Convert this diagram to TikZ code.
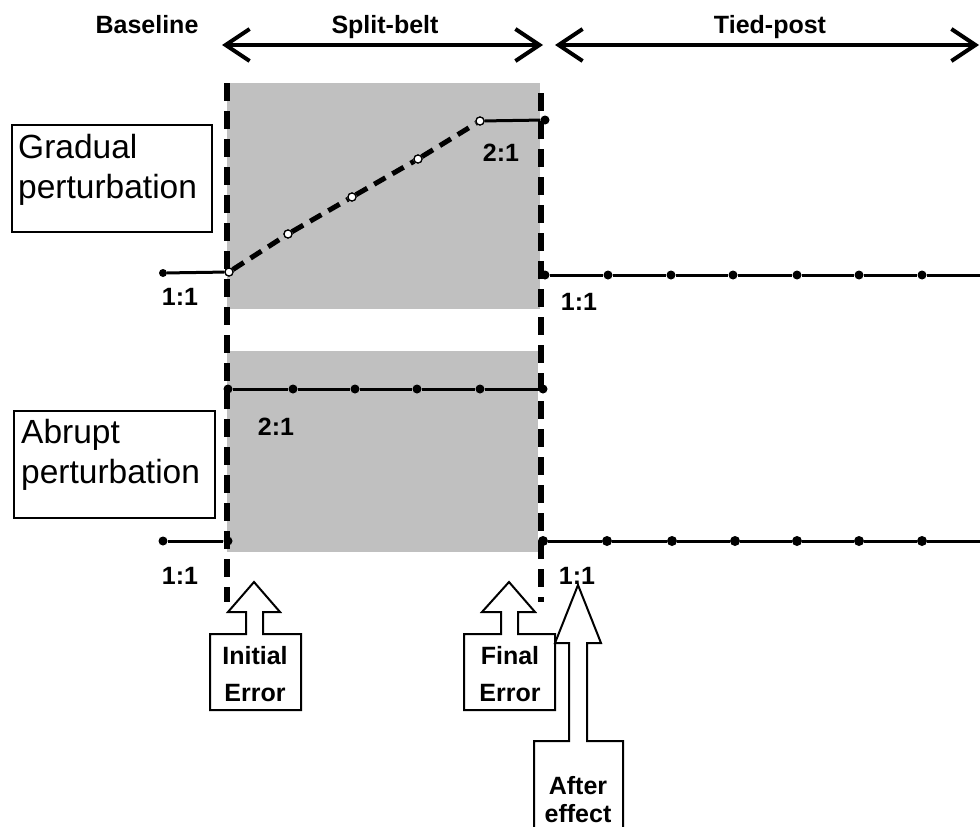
\documentclass[tikz,border=0pt]{standalone}
\usepackage{fontspec}
\setmainfont{Liberation Sans}
\usetikzlibrary{arrows.meta}
\begin{document}
\begin{tikzpicture}[x=1pt,y=-1pt,
  bl/.style={font=\fontsize{25}{30}\selectfont\bfseries, inner sep=0pt},
  rg/.style={font=\fontsize{33.5}{40}\selectfont, inner sep=0pt, anchor=base west},
  phase/.style={line width=4pt, {Straight Barb[length=24pt,width=32pt]}-{Straight Barb[length=24pt,width=32pt]}},
  vdash/.style={line width=6pt, dash pattern=on 18pt off 10pt},
  trace/.style={line width=3pt},
  ramp/.style={line width=5pt, dash pattern=on 13pt off 8pt},
  dot/.style={circle, fill=black, inner sep=0pt, minimum size=9pt},
  odot/.style={circle, fill=white, draw=black, line width=1.2pt, inner sep=0pt, minimum size=8pt},
  lbox/.style={draw, line width=1.5pt, inner sep=0pt},
  blk/.style={draw, line width=2pt, line join=miter},
  blkfill/.style={fill=white}
]
\useasboundingbox (0,0) rectangle (980,827);
\begin{scope}
\clip (0,0) rectangle (980,827);

% phase headers
\node[bl, anchor=base] (hbase) at (147,34) {Baseline};
\node[bl, anchor=base] (hsplit) at (385,34) {Split-belt};
\node[bl, anchor=base] (htied) at (770,34) {Tied-post};
\coordinate (s1) at (222,45);
\coordinate (s2) at (543,45);
\coordinate (p1) at (555,45);
\coordinate (p2) at (979,45);
\draw[phase] (s1) -- (s2);
\draw[phase] (p1) -- (p2);

% gray split-belt areas
\fill[gray!50!white, fill={rgb,255:red,192;green,192;blue,192}] (227,83) rectangle (540,309);
\fill[fill={rgb,255:red,192;green,192;blue,192}] (227,351) rectangle (538,552);

% dashed phase boundaries
\coordinate (vL1) at (227,83);
\coordinate (vL2) at (227,602);
\coordinate (vR1) at (541,93);
\coordinate (vR2) at (541,602);
\draw[vdash] (vL1) -- (vL2);
\draw[vdash] (vR1) -- (vR2);

% labels boxes
\node[lbox, anchor=north west, minimum width=200pt, minimum height=107pt] (gbox) at (11,124) {};
\node[rg] (gt1) at (18,158) {Gradual};
\node[rg] (gt2) at (18,198) {perturbation};
\node[lbox, anchor=north west, minimum width=201pt, minimum height=107pt] (abox) at (13,410) {};
\node[rg] (at1) at (21,443) {Abrupt};
\node[rg] (at2) at (21,483) {perturbation};

% gradual trace
\node[dot, minimum size=8pt] (b1) at (163,273) {};
\node[odot] (g1) at (229,272) {};
\node[odot] (g2) at (288,234) {};
\node[odot] (g3) at (352,197) {};
\node[odot] (g4) at (418,159) {};
\node[odot] (g5) at (480,121) {};
\node[dot] (gE) at (545,120) {};
\draw[trace] (b1) -- (g1);
\draw[ramp] (g1) -- (g2) -- (g3) -- (g4) -- (g5);
\draw[trace] (g5) -- (gE);
\foreach \n in {g1,g2,g3,g4,g5} \node[odot] at (\n) {};

% tied-post top
\foreach \x [count=\i] in {545,608,671,733,797,859,922} \node[dot] (t\i) at (\x,275) {};
\coordinate (tE) at (980,275);
\draw[trace] (t1) -- (t2) -- (t3) -- (t4) -- (t5) -- (t6) -- (t7) -- (tE);

% abrupt trace
\foreach \x [count=\i] in {228,293,355,417,480,543} \node[dot] (a\i) at (\x,389) {};
\draw[trace] (a1) -- (a2) -- (a3) -- (a4) -- (a5) -- (a6);
\node[dot] (c1) at (163,541) {};
\node[dot] (c2) at (228,541) {};
\draw[trace] (c1) -- (c2);
\foreach \x [count=\i] in {543,607,672,735,797,859,922} \node[dot, minimum size=10pt] (u\i) at (\x,541) {};
\coordinate (uE) at (980,541);
\draw[trace] (u1) -- (u2) -- (u3) -- (u4) -- (u5) -- (u6) -- (u7) -- (uE);

% ratio labels
\node[bl] (r1) at (180,297) {1:1};
\node[bl] (r2) at (501,153) {2:1};
\node[bl] (r3) at (579,302) {1:1};
\node[bl] (r4) at (276,427) {2:1};
\node[bl] (r5) at (180,576) {1:1};
\node[bl] (r6) at (577,576) {1:1};

% block arrows
\draw[blk, blkfill] (210,710) -- (301,710) -- (301,634) -- (263,634) -- (263,612) -- (280,612) -- (254,582) -- (228,612) -- (246,612) -- (246,634) -- (210,634) -- cycle;
\node[bl, anchor=base] (ie1) at (255,664) {Initial};
\node[bl, anchor=base] (ie2) at (255,701) {Error};

\draw[blk, blkfill] (464,710) -- (555,710) -- (555,634) -- (518,634) -- (518,612) -- (535,612) -- (509,582) -- (482,612) -- (501,612) -- (501,634) -- (464,634) -- cycle;
\node[bl, anchor=base] (fe1) at (510,664) {Final};
\node[bl, anchor=base] (fe2) at (510,701) {Error};

\fill[white] (534,835) -- (534,741) -- (569,741) -- (569,643) -- (555,643) -- (578,585) -- (601,643) -- (587,643) -- (587,741) -- (623,741) -- (623,835) -- cycle;
\draw[blk] (534,835) -- (534,741) -- (569,741) -- (569,643) -- (555,643) -- (578,585) -- (601,643) -- (587,643) -- (587,741) -- (623,741) -- (623,835);
\node[bl, anchor=base] (ae1) at (578,794) {After};
\node[bl, anchor=base] (ae2) at (578,822) {effect};
\end{scope}
\end{tikzpicture}
\end{document}
